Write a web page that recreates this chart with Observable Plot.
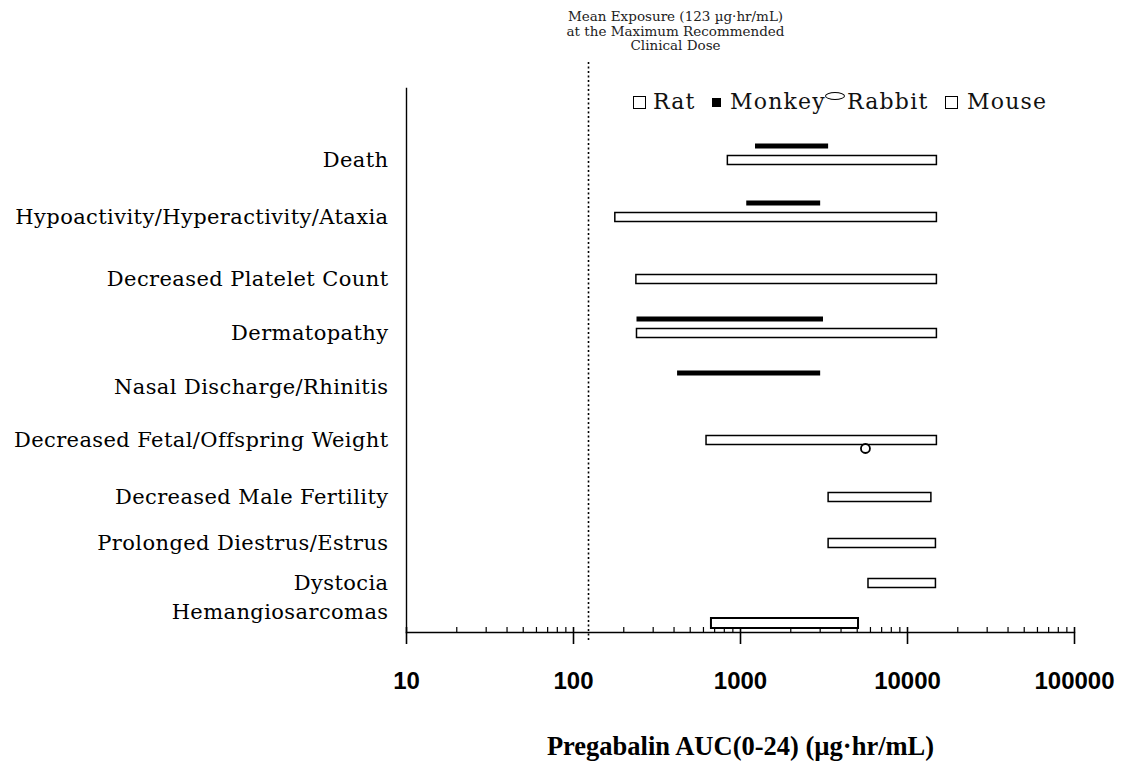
<!DOCTYPE html>
<html>
<head>
<meta charset="utf-8">
<script src="https://cdn.jsdelivr.net/npm/d3@7"></script>
<script src="https://cdn.jsdelivr.net/npm/@observablehq/plot@0.6"></script>
<style>
  html, body { margin: 0; padding: 0; background: #fff; }
  #wrap { position: relative; width: 1123px; height: 781px; }
  #legend span { position: absolute; }
  #legend .lab { font-family: "DejaVu Serif", serif; font-size: 22px; line-height: 24px; top: 90px; color: #111; white-space: nowrap; letter-spacing: 1.2px; }
  #legend .open { width: 11px; height: 11px; border: 1.6px solid #000; top: 96px; background: #fff; }
  #legend .fill { width: 9px; height: 9px; background: #000; top: 98px; }
  #legend .ell { width: 18px; height: 6px; border: 1.8px solid #000; border-radius: 50%; top: 92px; }
  svg g[aria-label="x-axis tick label"] text { font-weight: bold; }
  svg g[aria-label="y-axis tick label"] text { letter-spacing: 0.4px; }
</style>
</head>
<body>
<div id="wrap"></div>
<script>
// ---- data ----
const categories = [
  "Death",
  "Hypoactivity/Hyperactivity/Ataxia",
  "Decreased Platelet Count",
  "Dermatopathy",
  "Nasal Discharge/Rhinitis",
  "Decreased Fetal/Offspring Weight",
  "Decreased Male Fertility",
  "Prolonged Diestrus/Estrus",
  "Dystocia",
  "Hemangiosarcomas"
];
const ratRows = ["Death", "Hypoactivity/Hyperactivity/Ataxia", "Decreased Platelet Count", "Dermatopathy",
  "Decreased Fetal/Offspring Weight", "Decreased Male Fertility", "Prolonged Diestrus/Estrus", "Dystocia"];
const ratLow  = [840, 178, 238, 240, 626, 3370, 3370, 5840];
const ratHigh = [15000, 15000, 15000, 15000, 15000, 13900, 14800, 14800];

const monkeyRows = ["Death", "Hypoactivity/Hyperactivity/Ataxia", "Dermatopathy", "Nasal Discharge/Rhinitis"];
const monkeyLow  = [1230, 1090, 240, 420];
const monkeyHigh = [3370, 3020, 3140, 3020];

const rabbitRows  = ["Decreased Fetal/Offspring Weight"];
const rabbitValue = [5600];

const mouseRows = ["Hemangiosarcomas"];
const mouseLow  = [670];
const mouseHigh = [5090];

const xTicks = [10, 100, 1000, 10000, 100000];
const maxDoseExposure = 123;
const annotation = "Mean Exposure (123 µg·hr/mL)\nat the Maximum Recommended\nClinical Dose";
const xTitle = "Pregabalin AUC(0-24) (µg·hr/mL)";
const legendItems = ["Rat", "Monkey", "Rabbit", "Mouse"];

// ---- build tables ----
const idx = r => categories.indexOf(r);
const rat = ratRows.map((r, i) => ({i: idx(r), lo: ratLow[i], hi: ratHigh[i]}));
const monkey = monkeyRows.map((r, i) => ({i: idx(r), lo: monkeyLow[i], hi: monkeyHigh[i]}));
const rabbit = rabbitRows.map((r, i) => ({i: idx(r), v: rabbitValue[i]}));
const mouse = mouseRows.map((r, i) => ({i: idx(r), lo: mouseLow[i], hi: mouseHigh[i]}));
const minorTicks = [];
for (let e = 1; e < 5; e++) for (let k = 2; k <= 9; k++) minorTicks.push(k * 10 ** e);

const marginTop = 88, marginBottom = 149;
const frameH = 781 - marginTop - marginBottom;

const chart = Plot.plot({
  width: 1123,
  height: 781,
  marginLeft: 406,
  marginRight: 49,
  marginTop,
  marginBottom,
  style: {background: "#fff", color: "#000"},
  x: {type: "log", domain: [10, 100000], axis: null},
  y: {type: "linear", domain: d3.range(categories.length),
      range: [160, 217, 279, 333, 387, 440, 497, 543, 583, 612], axis: null},
  marks: [
    Plot.frame({anchor: "left", stroke: "#000", strokeWidth: 1.4}),
    Plot.frame({anchor: "bottom", stroke: "#000", strokeWidth: 1.4}),
    Plot.tickX(minorTicks, {x: d => d, insetTop: frameH - 5, stroke: "#000", strokeWidth: 1.2}),
    Plot.tickX(xTicks, {x: d => d, insetTop: frameH - 5, stroke: "#000", strokeWidth: 1.6}),
    Plot.axisX({ticks: xTicks, tickSize: 12, tickPadding: 27, tickFormat: d => String(d),
      fontSize: 24, fontFamily: "Liberation Sans, Arial, sans-serif", strokeWidth: 1.6, label: null}),
    Plot.axisY({ticks: d3.range(categories.length), tickFormat: i => categories[i],
      tickSize: 0, tickPadding: 18, fontSize: 21, fontFamily: "DejaVu Serif, serif", label: null}),
    Plot.ruleX([maxDoseExposure], {stroke: "#000", strokeWidth: 1.6, strokeDasharray: "2,2.5",
      insetTop: -26, insetBottom: -9}),
    Plot.text([annotation], {x: () => maxDoseExposure, frameAnchor: "top", lineAnchor: "top",
      dy: -77, dx: 87, fontSize: 13.5, lineHeight: 1.04, fontFamily: "DejaVu Serif, serif", fill: "#222"}),
    // Rat: hollow boxes
    Plot.rect(rat, {x1: "lo", x2: "hi", y1: "i", y2: "i", insetTop: -4.5, insetBottom: -4.5,
      fill: "#fff", stroke: "#000", strokeWidth: 1.5}),
    // Monkey: solid bars
    Plot.rect(monkey, {x1: "lo", x2: "hi", y1: "i", y2: "i", insetTop: -2.5, insetBottom: -2.5,
      dy: -14, fill: "#000"}),
    // Mouse: hollow box (heavier)
    Plot.rect(mouse, {x1: "lo", x2: "hi", y1: "i", y2: "i", insetTop: -5, insetBottom: -5,
      dy: 11, fill: "#fff", stroke: "#000", strokeWidth: 2}),
    // Rabbit: open circle
    Plot.dot(rabbit, {x: "v", y: "i", r: 4.5, dy: 8, fill: "#fff", stroke: "#000", strokeWidth: 1.8}),
    Plot.text([xTitle], {frameAnchor: "bottom", dy: 122, fontSize: 26.5, fontWeight: "bold",
      fontFamily: "Liberation Serif, Times New Roman, serif", fill: "#000"})
  ]
});

const wrap = document.getElementById("wrap");
wrap.appendChild(chart);

// legend overlay
const legend = document.createElement("div");
legend.id = "legend";
const pieces = [
  ["open", 633], ["lab", 653, legendItems[0]],
  ["fill", 712], ["lab", 730, legendItems[1]],
  ["ell", 825], ["lab", 847, legendItems[2]],
  ["open", 945], ["lab", 967, legendItems[3]]
];
for (const [cls, left, txt] of pieces) {
  const s = document.createElement("span");
  s.className = cls;
  s.style.left = left + "px";
  if (txt) s.textContent = txt;
  legend.appendChild(s);
}
wrap.appendChild(legend);
</script>
</body>
</html>
